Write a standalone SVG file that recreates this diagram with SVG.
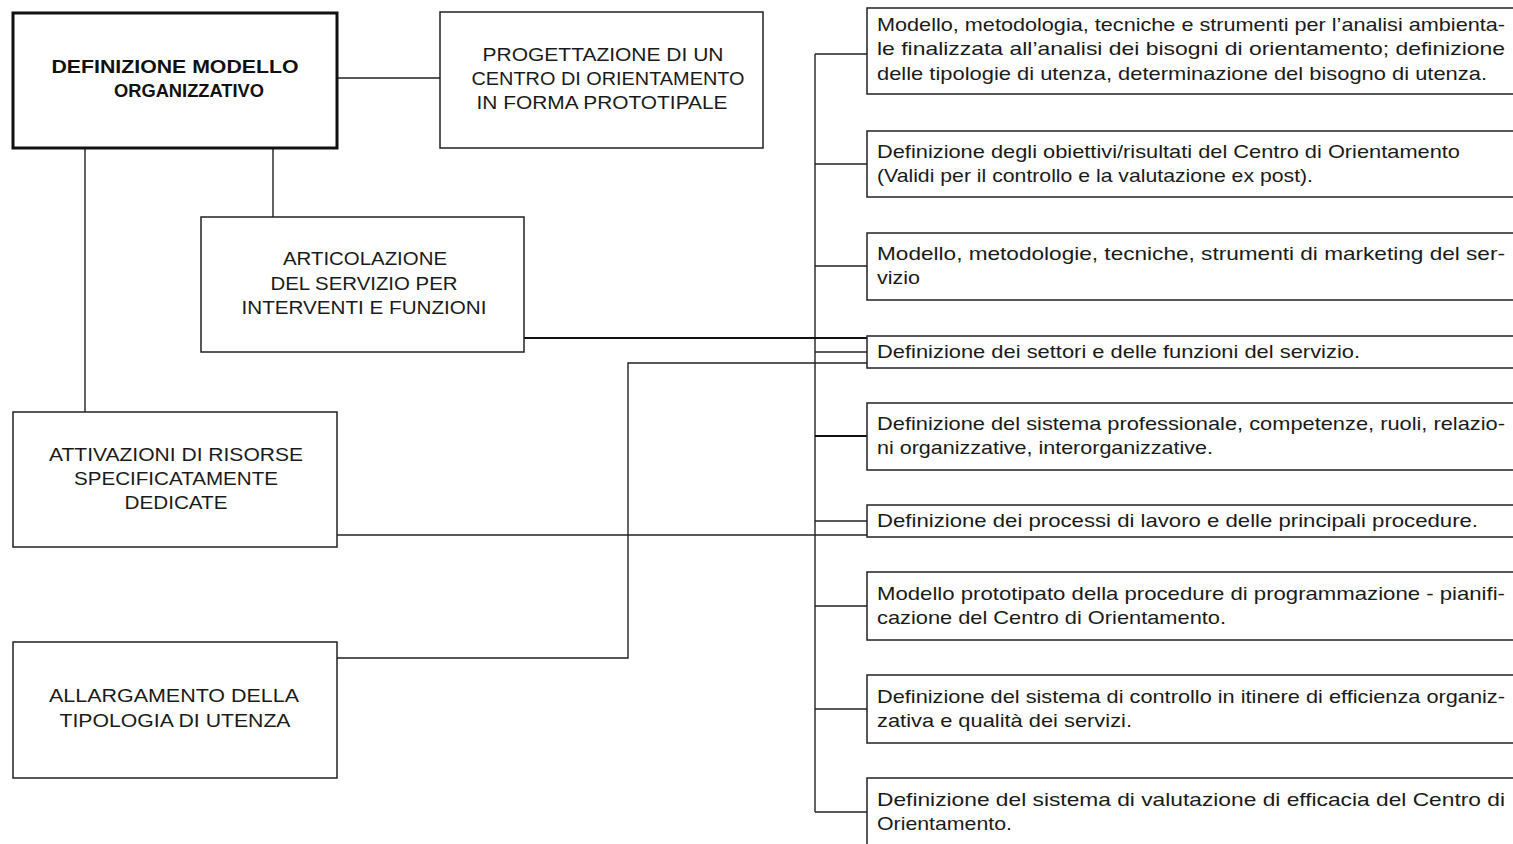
<svg xmlns="http://www.w3.org/2000/svg" width="1513" height="844" viewBox="0 0 1513 844">
<style>
.bg{fill:#fff}
.box{fill:#fff;stroke:#222;stroke-width:1.5}
.main{fill:#fff;stroke:#111;stroke-width:3}
.c{fill:none;stroke:#222;stroke-width:1.4}
.ct{fill:none;stroke:#111;stroke-width:2}
.lt{font-family:"Liberation Sans",Arial,sans-serif;font-size:18px;fill:#1a1a1a;text-anchor:middle}
.bt{font-family:"Liberation Sans",Arial,sans-serif;font-size:19px;font-weight:bold;fill:#111;text-anchor:middle}
.rt{font-family:"Liberation Sans",Arial,sans-serif;font-size:18.5px;fill:#1a1a1a}
</style>
<rect class="bg" x="0" y="0" width="1513" height="844"/>

<g id="connectors">
  <path class="c" d="M337,78 H440"/>
  <path class="c" d="M85,148 V412"/>
  <path class="c" d="M273,148 V217"/>
  <path class="c" d="M815,54 V812"/>
  <path class="c" d="M815,54 H867"/>
  <path class="c" d="M815,164 H867"/>
  <path class="c" d="M815,266 H867"/>
  <path class="c" d="M815,352 H867"/>
  <path class="ct" d="M815,436 H867"/>
  <path class="c" d="M815,521 H867"/>
  <path class="c" d="M815,606 H867"/>
  <path class="c" d="M815,709 H867"/>
  <path class="c" d="M815,812 H867"/>
  <path class="ct" d="M524,338 H867"/>
  <path class="c" d="M337,535 H867"/>
  <path class="c" d="M337,658 H628 V363 H867"/>
</g>

<g id="n-definizione">
  <rect class="main" x="13" y="13" width="324" height="135"/>
  <text class="bt" x="175" y="73" textLength="247" lengthAdjust="spacingAndGlyphs">DEFINIZIONE MODELLO</text>
  <text class="bt" x="189" y="97" textLength="150" lengthAdjust="spacingAndGlyphs">ORGANIZZATIVO</text>
</g>
<g id="n-progettazione">
  <rect class="box" x="440" y="12" width="323" height="136"/>
  <text class="lt" x="603" y="61" textLength="241" lengthAdjust="spacingAndGlyphs">PROGETTAZIONE DI UN</text>
  <text class="lt" x="608" y="85" textLength="273" lengthAdjust="spacingAndGlyphs">CENTRO DI ORIENTAMENTO</text>
  <text class="lt" x="602" y="109" textLength="251" lengthAdjust="spacingAndGlyphs">IN FORMA PROTOTIPALE</text>
</g>
<g id="n-articolazione">
  <rect class="box" x="201" y="217" width="323" height="135"/>
  <text class="lt" x="365" y="265" textLength="164" lengthAdjust="spacingAndGlyphs">ARTICOLAZIONE</text>
  <text class="lt" x="364" y="290" textLength="187" lengthAdjust="spacingAndGlyphs">DEL SERVIZIO PER</text>
  <text class="lt" x="364" y="314" textLength="245" lengthAdjust="spacingAndGlyphs">INTERVENTI E FUNZIONI</text>
</g>
<g id="n-attivazioni">
  <rect class="box" x="13" y="412" width="324" height="135"/>
  <text class="lt" x="176" y="461" textLength="254" lengthAdjust="spacingAndGlyphs">ATTIVAZIONI DI RISORSE</text>
  <text class="lt" x="176" y="485" textLength="204" lengthAdjust="spacingAndGlyphs">SPECIFICATAMENTE</text>
  <text class="lt" x="176" y="509" textLength="103" lengthAdjust="spacingAndGlyphs">DEDICATE</text>
</g>
<g id="n-allargamento">
  <rect class="box" x="13" y="642" width="324" height="136"/>
  <text class="lt" x="174" y="702" textLength="250" lengthAdjust="spacingAndGlyphs">ALLARGAMENTO DELLA</text>
  <text class="lt" x="175" y="727" textLength="231" lengthAdjust="spacingAndGlyphs">TIPOLOGIA DI UTENZA</text>
</g>

<g id="r1">
  <rect class="box" x="867" y="8" width="660" height="86"/>
  <text class="rt" x="877" y="31" textLength="628" lengthAdjust="spacingAndGlyphs">Modello, metodologia, tecniche e strumenti per l’analisi ambienta-</text>
  <text class="rt" x="877" y="55" textLength="628" lengthAdjust="spacingAndGlyphs">le finalizzata all’analisi dei bisogni di orientamento; definizione</text>
  <text class="rt" x="877" y="80" textLength="610" lengthAdjust="spacingAndGlyphs">delle tipologie di utenza, determinazione del bisogno di utenza.</text>
</g>
<g id="r2">
  <rect class="box" x="867" y="131" width="660" height="66"/>
  <text class="rt" x="877" y="158" textLength="583" lengthAdjust="spacingAndGlyphs">Definizione degli obiettivi/risultati del Centro di Orientamento</text>
  <text class="rt" x="877" y="182" textLength="436" lengthAdjust="spacingAndGlyphs">(Validi per il controllo e la valutazione ex post).</text>
</g>
<g id="r3">
  <rect class="box" x="867" y="233" width="660" height="67"/>
  <text class="rt" x="877" y="260" textLength="628" lengthAdjust="spacingAndGlyphs">Modello, metodologie, tecniche, strumenti di marketing del ser-</text>
  <text class="rt" x="877" y="284" textLength="43" lengthAdjust="spacingAndGlyphs">vizio</text>
</g>
<g id="r4">
  <rect class="box" x="867" y="336" width="660" height="32"/>
  <text class="rt" x="877" y="358" textLength="483" lengthAdjust="spacingAndGlyphs">Definizione dei settori e delle funzioni del servizio.</text>
</g>
<g id="r5">
  <rect class="box" x="867" y="403" width="660" height="67"/>
  <text class="rt" x="877" y="430" textLength="628" lengthAdjust="spacingAndGlyphs">Definizione del sistema professionale, competenze, ruoli, relazio-</text>
  <text class="rt" x="877" y="454" textLength="336" lengthAdjust="spacingAndGlyphs">ni organizzative, interorganizzative.</text>
</g>
<g id="r6">
  <rect class="box" x="867" y="505" width="660" height="32"/>
  <text class="rt" x="877" y="527" textLength="601" lengthAdjust="spacingAndGlyphs">Definizione dei processi di lavoro e delle principali procedure.</text>
</g>
<g id="r7">
  <rect class="box" x="867" y="572" width="660" height="68"/>
  <text class="rt" x="877" y="600" textLength="628" lengthAdjust="spacingAndGlyphs">Modello prototipato della procedure di programmazione - pianifi-</text>
  <text class="rt" x="877" y="624" textLength="349" lengthAdjust="spacingAndGlyphs">cazione del Centro di Orientamento.</text>
</g>
<g id="r8">
  <rect class="box" x="867" y="675" width="660" height="68"/>
  <text class="rt" x="877" y="703" textLength="628" lengthAdjust="spacingAndGlyphs">Definizione del sistema di controllo in itinere di efficienza organiz-</text>
  <text class="rt" x="877" y="727" textLength="255" lengthAdjust="spacingAndGlyphs">zativa e qualità dei servizi.</text>
</g>
<g id="r9">
  <rect class="box" x="867" y="778" width="660" height="80"/>
  <text class="rt" x="877" y="806" textLength="628" lengthAdjust="spacingAndGlyphs">Definizione del sistema di valutazione di efficacia del Centro di</text>
  <text class="rt" x="877" y="830" textLength="135" lengthAdjust="spacingAndGlyphs">Orientamento.</text>
</g>
</svg>
